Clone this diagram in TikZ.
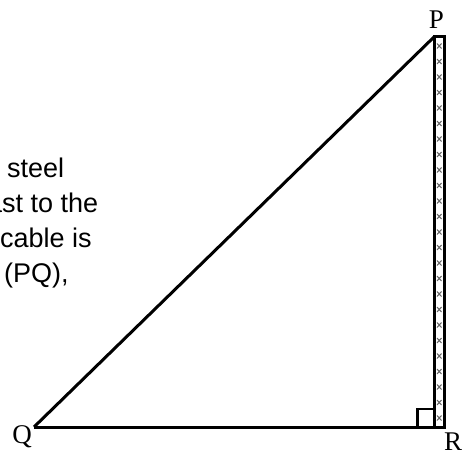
\documentclass[tikz,border=0pt]{standalone}
\usepackage{fontspec}
\setmainfont{Liberation Serif}
\setsansfont{Liberation Sans}
\usetikzlibrary{positioning}

\begin{document}
\begin{tikzpicture}[x=1pt,y=-1pt,
  side/.style={line width=3pt},
  corner/.style={font=\fontsize{27}{27}\selectfont,inner sep=0pt},
  txt/.style={font=\sffamily\fontsize{27}{27}\selectfont,anchor=base west,inner sep=0pt}]
  \useasboundingbox (0,0) rectangle (463,458);
  \clip (0,0) rectangle (463,458);
  % corners of the triangle
  \coordinate (p) at (434.5,36.5);
  \coordinate (q) at (34,427);
  \coordinate (r) at (434.5,427);
  \coordinate (m) at (444,427);
  % the mast
  \foreach \y in {46,61.5,...,425}
    \draw[gray!80!black,line width=1pt] (437,\y-2.5) -- (441.5,\y+2.5) (437,\y+2.5) -- (441.5,\y-2.5);
  \draw[side] (p) rectangle (m);
  \draw[side] (q) -- (p);
  \draw[side] (q) -- (r);
  \draw[line width=2.5pt] (r) ++(-17,0) -- ++(0,-18) -- ++(17,0);
  \node[corner] (P) at (436.5,20) {P};
  \node[corner] (Q) at (22,437) {Q};
  \node[corner] (R) at (453,442) {R};
  % text cut off on the left
  \node[txt] (t1) at (7,177) {steel};
  \node[txt] (t2) at (-13,212) {ast to the};
  \node[txt] (t3) at (0,247) {cable is};
  \node[txt] (t4) at (4,282) {(PQ),};
\end{tikzpicture}
\end{document}
